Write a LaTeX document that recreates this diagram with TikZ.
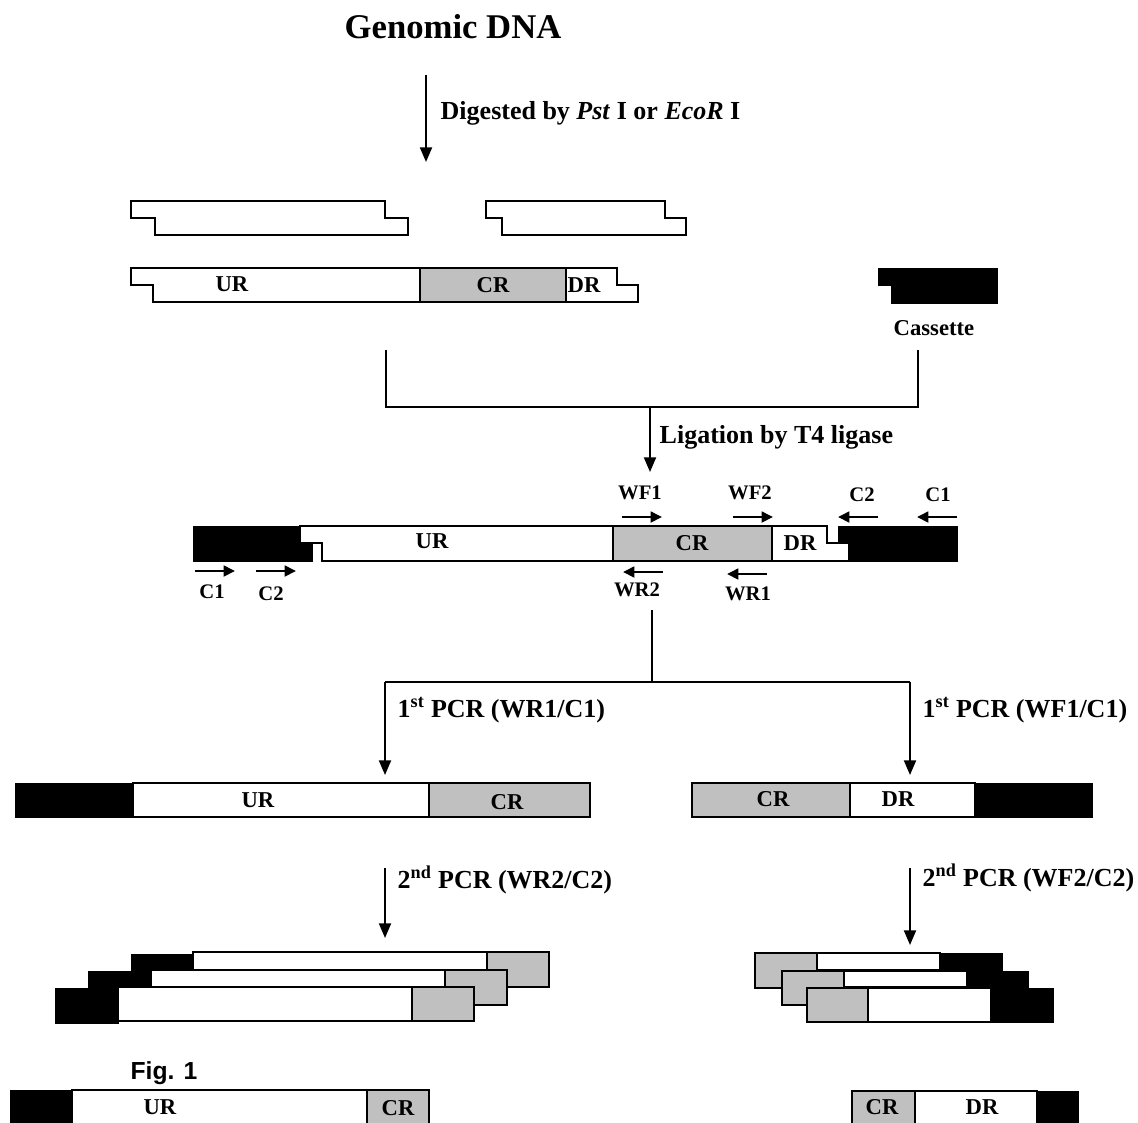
\documentclass[tikz,border=0pt]{standalone}
\usepackage{fontspec}
\setmainfont{Liberation Serif}
\newfontfamily\figfont{Liberation Sans}
\usepackage{tikz}
\usetikzlibrary{arrows.meta}
\definecolor{CRgray}{HTML}{C0C0C0}

\begin{document}
\begin{tikzpicture}[
  x=0.75pt, y=-0.75pt,
  font=\bfseries,
  dna/.style={draw, line width=0.9pt, fill=white},
  crbox/.style={draw, line width=0.9pt, fill=CRgray},
  cas/.style={fill=black, draw=black, line width=0.5pt},
  seglab/.style={font=\fontsize{17}{20}\selectfont\bfseries},
  steplab/.style={font=\fontsize{19.5}{23}\selectfont\bfseries, anchor=west},
  primlab/.style={font=\fontsize{15.5}{18}\selectfont\bfseries},
  arr/.style={-{Triangle[length=11pt, width=9pt]}, line width=1.5pt},
  primer/.style={-{Triangle[length=8.5pt, width=8pt]}, line width=2pt},
  brk/.style={line width=1.5pt},
]
\useasboundingbox (0,0) rectangle (1138,1122);
\clip (0,0) rectangle (1138,1122);

% digestion
\node[font=\fontsize{26}{30}\selectfont\bfseries] (title) at (453,27) {Genomic DNA};
\coordinate (dgTop) at (426,75);
\coordinate (dgEnd) at (426,162);
\draw[arr] (dgTop) -- (dgEnd);
\node[steplab] (dig) at (436,113) {Digested by \textit{Pst} I or \textit{EcoR} I};

\draw[dna] (131,201) -- (385,201) -- (385,218) -- (408,218) -- (408,235)
  -- (155,235) -- (155,218) -- (131,218) -- cycle;
\draw[dna] (486,201) -- (665,201) -- (665,218) -- (686,218) -- (686,235)
  -- (502,235) -- (502,218) -- (486,218) -- cycle;

\draw[dna] (131,268) -- (617,268) -- (617,285) -- (638,285) -- (638,302)
  -- (153,302) -- (153,285) -- (131,285) -- cycle;
\draw[crbox] (420,268) rectangle (566,302);
\node[seglab] (ur0) at (232,284) {UR};
\node[seglab] (cr0) at (493,285) {CR};
\node[seglab] (dr0) at (584,285) {DR};

\fill[cas] (878,268) -- (997,268) -- (997,303) -- (891,303) -- (891,285) -- (878,285) -- cycle;
\node[seglab] (cas) at (934,328) {Cassette};

% ligation
\draw[brk] (386,350) -- (386,407) -- (918,407) -- (918,350);
\coordinate (ligTop) at (650,407);
\coordinate (ligEnd) at (650,472);
\draw[arr] (ligTop) -- (ligEnd);
\node[steplab] (lig) at (655,437) {Ligation by T4 ligase};

\draw[dna] (300,526) -- (827,526) -- (827,543) -- (849,543) -- (849,561)
  -- (322,561) -- (322,543) -- (300,543) -- cycle;
\draw[crbox] (613,526) rectangle (772,561);
\fill[cas] (193,526) -- (300,526) -- (300,543) -- (312,543) -- (312,561) -- (193,561) -- cycle;
\fill[cas] (838,526) -- (957,526) -- (957,561) -- (850,561) -- (850,543) -- (838,543) -- cycle;
\node[seglab] (ur1) at (432,541) {UR};
\node[seglab] (cr1) at (692,543) {CR};
\node[seglab] (dr1) at (800,543) {DR};

% primers
\coordinate (c1fA) at (195,571); \coordinate (c1fB) at (235,571);
\coordinate (c2fA) at (256,571); \coordinate (c2fB) at (296,571);
\draw[primer] (c1fA) -- (c1fB);
\draw[primer] (c2fA) -- (c2fB);
\node[primlab] (c1f) at (212,592) {C1};
\node[primlab] (c2f) at (271,594) {C2};

\coordinate (wf1A) at (622,517); \coordinate (wf1B) at (662,517);
\coordinate (wf2A) at (733,517); \coordinate (wf2B) at (773,517);
\coordinate (c2rA) at (878,517); \coordinate (c2rB) at (838,517);
\coordinate (c1rA) at (957,517); \coordinate (c1rB) at (917,517);
\draw[primer] (wf1A) -- (wf1B);
\draw[primer] (wf2A) -- (wf2B);
\draw[primer] (c2rA) -- (c2rB);
\draw[primer] (c1rA) -- (c1rB);
\node[primlab] (wf1) at (640,493) {WF1};
\node[primlab] (wf2) at (750,493) {WF2};
\node[primlab] (c2r) at (862,495) {C2};
\node[primlab] (c1r) at (938,495) {C1};

\coordinate (wr2A) at (663,572); \coordinate (wr2B) at (623,572);
\coordinate (wr1A) at (767,574); \coordinate (wr1B) at (727,574);
\draw[primer] (wr2A) -- (wr2B);
\draw[primer] (wr1A) -- (wr1B);
\node[primlab] (wr2) at (637,590) {WR2};
\node[primlab] (wr1) at (748,594) {WR1};

% first PCR
\coordinate (split) at (652,682);
\coordinate (spL) at (385,682);
\coordinate (spR) at (910,682);
\coordinate (pcLEnd) at (385,775);
\coordinate (pcREnd) at (910,775);
\draw[brk] (652,610) -- (split);
\draw[brk] (spL) -- (spR);
\draw[arr] (spL) -- (pcLEnd);
\draw[arr] (spR) -- (pcREnd);
\node[steplab] (pcr1L) at (393,710) {1\textsuperscript{st} PCR (WR1/C1)};
\node[steplab] (pcr1R) at (918,710) {1\textsuperscript{st} PCR (WF1/C1)};

\fill[cas] (15,783) rectangle (133,817);
\draw[dna] (133,783) rectangle (429,817);
\draw[crbox] (429,783) rectangle (590,817);
\node[seglab] (ur2) at (258,800) {UR};
\node[seglab] (cr2) at (507,802) {CR};

\draw[crbox] (692,783) rectangle (850,817);
\draw[dna] (850,783) rectangle (975,817);
\fill[cas] (975,783) rectangle (1092,817);
\node[seglab] (cr3) at (773,799) {CR};
\node[seglab] (dr3) at (898,799) {DR};

% second PCR
\coordinate (sdLTop) at (385,868);
\coordinate (sdLEnd) at (385,938);
\coordinate (sdRTop) at (910,868);
\coordinate (sdREnd) at (910,945);
\draw[arr] (sdLTop) -- (sdLEnd);
\draw[arr] (sdRTop) -- (sdREnd);
\node[steplab] (pcr2L) at (393,880) {2\textsuperscript{nd} PCR (WR2/C2)};
\node[steplab] (pcr2R) at (918,878) {2\textsuperscript{nd} PCR (WF2/C2)};

\fill[cas] (131,954) rectangle (193,986);
\draw[dna] (193,952) rectangle (487,970);
\draw[crbox] (487,952) rectangle (549,987);
\fill[cas] (88,971) rectangle (151,1004);
\draw[dna] (151,970) rectangle (445,987);
\draw[crbox] (445,970) rectangle (507,1005);
\fill[cas] (55,988) rectangle (118,1023);
\draw[dna] (118,987) rectangle (412,1021);
\draw[crbox] (412,987) rectangle (474,1021);

\draw[crbox] (755,953) rectangle (817,988);
\draw[dna] (817,953) rectangle (940,970);
\fill[cas] (940,953) rectangle (1002,988);
\draw[crbox] (782,971) rectangle (844,1005);
\draw[dna] (844,971) rectangle (967,987);
\fill[cas] (967,971) rectangle (1028,1005);
\draw[crbox] (807,988) rectangle (868,1022);
\draw[dna] (868,988) rectangle (991,1022);
\fill[cas] (991,988) rectangle (1053,1022);

% final products
\node[font=\fontsize{18.5}{22}\selectfont\bfseries\figfont] (fig) at (164,1073) {Fig. 1};
\fill[cas] (10,1090) rectangle (72,1126);
\draw[dna] (72,1090) rectangle (367,1126);
\draw[crbox] (367,1090) rectangle (429,1126);
\node[seglab] (ur4) at (160,1107) {UR};
\node[seglab] (cr4) at (398,1108) {CR};

\draw[crbox] (852,1091) rectangle (915,1126);
\draw[dna] (915,1091) rectangle (1037,1126);
\fill[cas] (1037,1091) rectangle (1078,1126);
\node[seglab] (cr5) at (882,1107) {CR};
\node[seglab] (dr5) at (982,1107) {DR};

\end{tikzpicture}
\end{document}
